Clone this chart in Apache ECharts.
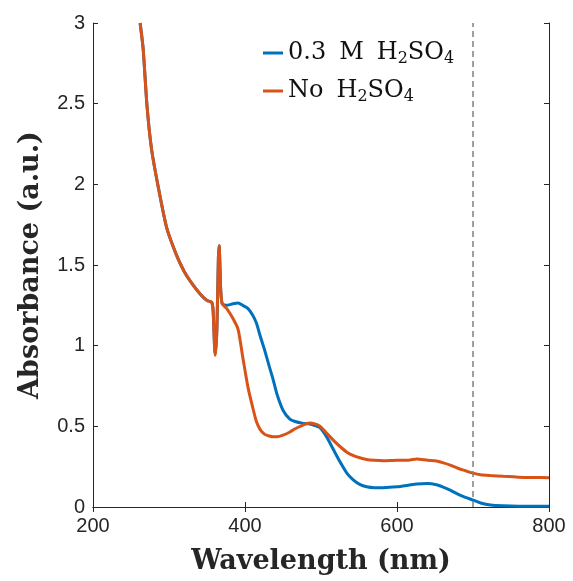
<!DOCTYPE html>
<html>
<head>
  <meta charset="utf-8">
  <title>Absorbance spectra</title>
  <script src="https://cdn.jsdelivr.net/npm/echarts@6.0.0/dist/echarts.min.js"></script>
  <style>
    html, body { margin: 0; padding: 0; background: #fff; }
    #main { width: 573px; height: 581px; }
  </style>
</head>
<body>
  <div id="main"></div>
  <script>
    // 波长 (nm)
    const wavelengths = [262, 266, 271, 277, 286, 297, 310, 320, 328, 341, 350, 356, 358, 360, 361, 363, 365, 366, 368, 370,
      376, 384, 391, 397, 404, 410, 415, 420, 426, 432, 437, 442, 450, 459, 466, 475, 485, 492, 499, 508,
      517, 525, 534, 542, 551, 560, 570, 582, 600, 615, 626, 640, 652, 660, 670, 680, 690, 700, 710, 723,
      740, 760, 780, 800];

    // 0.3 M H2SO4
    const acidVals = [3.0, 2.84, 2.49, 2.22, 1.98, 1.73, 1.56, 1.46, 1.40, 1.32, 1.28, 1.27, 1.22, 0.99, 0.95, 1.10, 1.55, 1.62, 1.35, 1.26,
      1.25, 1.26, 1.265, 1.25, 1.23, 1.19, 1.14, 1.06, 0.97, 0.87, 0.79, 0.70, 0.60, 0.545, 0.53, 0.52, 0.515, 0.505, 0.49, 0.43,
      0.35, 0.28, 0.21, 0.17, 0.14, 0.125, 0.12, 0.12, 0.125, 0.135, 0.143, 0.145, 0.138, 0.125, 0.105, 0.08, 0.06, 0.043, 0.025, 0.012,
      0.007, 0.005, 0.005, 0.005];

    // No H2SO4
    const noAcidVals = [3.0, 2.84, 2.49, 2.22, 1.98, 1.73, 1.56, 1.46, 1.40, 1.32, 1.28, 1.27, 1.22, 0.98, 0.94, 1.10, 1.55, 1.62, 1.35, 1.26,
      1.23, 1.17, 1.10, 0.93, 0.74, 0.62, 0.53, 0.48, 0.45, 0.44, 0.435, 0.435, 0.445, 0.465, 0.485, 0.505, 0.52, 0.515, 0.50, 0.455,
      0.41, 0.375, 0.34, 0.32, 0.305, 0.295, 0.29, 0.287, 0.29, 0.29, 0.298, 0.29, 0.285, 0.275, 0.26, 0.24, 0.225, 0.21, 0.20, 0.195,
      0.19, 0.185, 0.183, 0.182];

    const seriesNames = ['0.3 M H2SO4', 'No H2SO4'];
    const seriesColors = ['#0072BD', '#D95319'];
    const cutoffLine = 700;

    const chart = echarts.init(document.getElementById('main'), null, { renderer: 'canvas' });

    const axisColor = '#262626';
    const tickFont = { fontFamily: 'Liberation Sans', fontSize: 20, color: '#262626' };
    const legendFont = 'DejaVu Serif';

    function pairs(vals) {
      return wavelengths.map((w, i) => [w, vals[i]]);
    }

    // "H2SO4" -> H{s|2}SO{s|4}, spaces wider like LaTeX
    function legendLabel(name) {
      const parts = name.split(' ').map(p => {
        if (p === 'H2SO4') return '{t|H}{s|2}{t|SO}{s|4}';
        return '{t|' + p + '}';
      });
      return parts.join('{sp| }');
    }

    const option = {
      animation: false,
      grid: { left: 93, right: 24, top: 23, bottom: 74 },
      legend: {
        data: seriesNames,
        orient: 'vertical',
        left: 258,
        top: 36,
        itemGap: 12,
        itemWidth: 20,
        itemHeight: 3,
        icon: 'rect',
        textStyle: {
          fontFamily: legendFont,
          fontSize: 24,
          color: '#111',
          rich: {
            t: { fontFamily: legendFont, fontSize: 24, color: '#111', lineHeight: 28 },
            sp: { fontFamily: legendFont, fontSize: 24, width: 13, lineHeight: 28 },
            s: { fontFamily: legendFont, fontSize: 16, color: '#111', verticalAlign: 'bottom', lineHeight: 15 }
          }
        },
        formatter: legendLabel
      },
      xAxis: [{
        type: 'value',
        min: 200,
        max: 800,
        interval: 200,
        name: 'Wavelength (nm)',
        nameLocation: 'middle',
        nameGap: 41,
        nameTextStyle: { fontFamily: 'DejaVu Serif', fontWeight: 'bold', fontSize: 27, color: '#262626' },
        axisLine: { show: true, lineStyle: { color: axisColor, width: 1 } },
        axisTick: { show: true, inside: true, length: 5, lineStyle: { color: axisColor } },
        axisLabel: Object.assign({ margin: 9 }, tickFont),
        splitLine: { show: false }
      }, {
        type: 'value',
        position: 'top',
        min: 200,
        max: 800,
        interval: 200,
        axisLine: { show: true, lineStyle: { color: axisColor, width: 1 } },
        axisTick: { show: true, inside: true, length: 5, lineStyle: { color: axisColor } },
        axisLabel: { show: false },
        splitLine: { show: false }
      }],
      yAxis: [{
        type: 'value',
        min: 0,
        max: 3,
        interval: 0.5,
        name: 'Absorbance (a.u.)',
        nameLocation: 'middle',
        nameGap: 49,
        nameTextStyle: { fontFamily: 'DejaVu Serif', fontWeight: 'bold', fontSize: 27, color: '#262626' },
        axisLine: { show: true, lineStyle: { color: axisColor, width: 1 } },
        axisTick: { show: true, inside: true, length: 5, lineStyle: { color: axisColor } },
        axisLabel: Object.assign({ margin: 8 }, tickFont),
        splitLine: { show: false }
      }, {
        type: 'value',
        position: 'right',
        min: 0,
        max: 3,
        interval: 0.5,
        axisLine: { show: true, lineStyle: { color: axisColor, width: 1 } },
        axisTick: { show: true, inside: true, length: 5, lineStyle: { color: axisColor } },
        axisLabel: { show: false },
        splitLine: { show: false }
      }],
      series: [
        {
          name: seriesNames[0],
          type: 'line',
          data: pairs(acidVals),
          showSymbol: false,
          smooth: 0.2,
          color: seriesColors[0],
          lineStyle: { width: 3, color: seriesColors[0] },
          z: 2,
          markLine: {
            silent: true,
            symbol: 'none',
            label: { show: false },
            lineStyle: { type: [6, 4], color: '#808080', width: 1.5 },
            data: [{ xAxis: cutoffLine }]
          }
        },
        {
          name: seriesNames[1],
          type: 'line',
          data: pairs(noAcidVals),
          showSymbol: false,
          smooth: 0.2,
          color: seriesColors[1],
          lineStyle: { width: 3, color: seriesColors[1] },
          z: 3
        }
      ]
    };

    chart.setOption(option);
  </script>
</body>
</html>
